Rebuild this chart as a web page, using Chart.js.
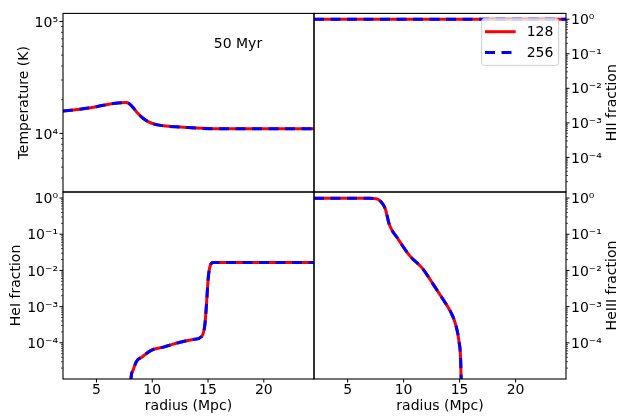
<!DOCTYPE html>
<html>
<head>
<meta charset="utf-8">
<script src="https://cdn.jsdelivr.net/npm/chart.js@4.4.0/dist/chart.umd.min.js"></script>
<style>
  html, body { margin: 0; padding: 0; background: #fff; }
  #wrap { position: relative; width: 632px; height: 419px; }
  #wrap canvas { position: absolute; left: 0; top: 0; }
</style>
</head>
<body>
<div id="wrap">
  <canvas id="cTemp" width="632" height="419"></canvas>
  <canvas id="cHII" width="632" height="419"></canvas>
  <canvas id="cHeI" width="632" height="419"></canvas>
  <canvas id="cHeII" width="632" height="419"></canvas>
</div>
<script>
// perfiles radiales a 50 Myr, resoluciones 128 y 256
const radiusTicks = [5, 10, 15, 20];

const tempRadius = [2.0, 3.5, 5.0, 6.5, 7.7, 8.15, 8.6, 9.2, 9.95, 11.0, 12.5, 15.5, 24.5];
const temp128 = [15830, 16450, 17340, 18500, 18880, 17650, 15520, 13600, 12330, 11700, 11410, 11030, 11030];
const temp256 = [15830, 16450, 17340, 18500, 18880, 17650, 15520, 13600, 12330, 11700, 11410, 11030, 11030];

const hiiRadius = [2.0, 8.0, 15.0, 24.5];
const hii128 = [1.0, 1.0, 1.0, 1.0];
const hii256 = [1.0, 1.0, 1.0, 1.0];

const heiRadius = [8.0, 8.09, 8.3, 8.6, 9.05, 9.95, 11.0, 12.5, 13.67, 14.43, 14.72, 14.88, 15.02, 15.23, 15.47, 24.5];
const hei128 = [3e-6, 1e-5, 1.8e-5, 3.1e-5, 4.0e-5, 6.3e-5, 7.6e-5, 1.04e-4, 1.23e-4, 1.5e-4, 3.2e-4, 1.4e-3, 6.2e-3, 0.0145, 0.0166, 0.0166];
const hei256 = [3e-6, 1e-5, 1.8e-5, 3.1e-5, 4.0e-5, 6.3e-5, 7.6e-5, 1.04e-4, 1.23e-4, 1.5e-4, 3.2e-4, 1.4e-3, 6.2e-3, 0.0145, 0.0166, 0.0166];

const heiiRadius = [2.0, 5.0, 7.0, 7.56, 8.0, 8.36, 8.74, 9.48, 10.52, 11.7, 12.59, 13.47, 14.2, 14.66, 14.95, 15.1, 15.2];
const heii128 = [0.98, 0.98, 0.98, 0.96, 0.78, 0.51, 0.18, 0.076, 0.026, 0.0112, 0.0044, 0.00167, 7.2e-4, 3.1e-4, 1.07e-4, 3e-5, 1e-6];
const heii256 = [0.98, 0.98, 0.98, 0.96, 0.78, 0.51, 0.18, 0.076, 0.026, 0.0112, 0.0044, 0.00167, 7.2e-4, 3.1e-4, 1.07e-4, 3e-5, 1e-6];

Chart.defaults.font.family = "'DejaVu Sans', sans-serif";
Chart.defaults.font.size = 14;
Chart.defaults.color = "#000";

const FONT = { family: "'DejaVu Sans', sans-serif", size: 14 };
const SUP = { "0": "\u2070", "1": "\u00b9", "2": "\u00b2", "3": "\u00b3", "4": "\u2074", "5": "\u2075", "6": "\u2076", "-": "\u207b" };

function pares(xs, ys) {
    return xs.map((x, i) => ({ x: x, y: ys[i] }));
}

function series(xs, y128, y256) {
    return [
        {
            label: "128",
            data: pares(xs, y128),
            borderColor: "#ff0000",
            borderWidth: 3,
            pointRadius: 0,
            cubicInterpolationMode: "monotone",
            order: 1
        },
        {
            label: "256",
            data: pares(xs, y256),
            borderColor: "#0000ff",
            borderWidth: 3,
            borderDash: [10, 6.5],
            pointRadius: 0,
            cubicInterpolationMode: "monotone",
            order: 0
        }
    ];
}

// ticks 1..9 x 10^n dentro del rango (sin el borde inferior)
function logTicks(scale) {
    const list = [];
    for (let e = -7; e <= 7; e++) {
        for (let m = 1; m <= 9; m++) {
            const v = parseFloat(m + "e" + e);
            if (v > scale.min * 1.001 && v <= scale.max) list.push({ value: v, major: m === 1 });
        }
    }
    scale.ticks = list;
}

function decadeLabel(value) {
    const e = Math.round(Math.log10(value));
    if (Math.abs(value / Math.pow(10, e) - 1) > 1e-6) return "";
    return "10" + String(e).split("").map(c => SUP[c]).join("");
}

function logAxis(min, max, position, width, title, titlePad) {
    return {
        type: "logarithmic",
        position: position,
        min: min,
        max: max,
        afterBuildTicks: logTicks,
        afterFit: s => { s.width = width; },
        grid: { display: false, drawTicks: false },
        border: { display: false },
        ticks: { autoSkip: false, padding: 5, labelOffset: 1.5, font: FONT, color: "#000", callback: decadeLabel },
        title: title ? { display: true, text: title, font: FONT, color: "#000", padding: { top: titlePad, bottom: 0 } } : { display: false }
    };
}

function radiusAxis(visible) {
    return {
        type: "linear",
        display: visible,
        min: 2,
        max: 24.5,
        afterBuildTicks: s => { s.ticks = radiusTicks.map(v => ({ value: v })); },
        afterFit: s => { s.height = visible ? 40 : 0; },
        grid: { display: false, drawTicks: false },
        border: { display: false },
        ticks: { autoSkip: false, maxRotation: 0, padding: 3.4, font: FONT, color: "#000" },
        title: { display: true, text: "radius (Mpc)", font: FONT, color: "#000", padding: { top: 0, bottom: 4.6 } }
    };
}

// marco completo del panel
const marco = {
    id: "marco",
    afterDraw(chart) {
        const { ctx, chartArea: a } = chart;
        ctx.save();
        ctx.strokeStyle = "#000";
        ctx.lineWidth = 1.1;
        ctx.strokeRect(a.left, a.top, a.right - a.left, a.bottom - a.top);
        ctx.restore();
    }
};

// marcas de ticks hacia afuera, menores mas cortas
const marcas = {
    id: "marcas",
    afterDraw(chart) {
        const ctx = chart.ctx;
        ctx.save();
        ctx.strokeStyle = "#000";
        Object.values(chart.scales).forEach(scale => {
            if (!scale.options.display) return;
            scale.ticks.forEach(t => {
                const mayor = scale.axis === "x" || t.major;
                const len = mayor ? 3.5 : 2;
                ctx.lineWidth = mayor ? 1 : 0.7;
                const p = scale.getPixelForValue(t.value);
                ctx.beginPath();
                if (scale.axis === "x") {
                    ctx.moveTo(p, scale.top);
                    ctx.lineTo(p, scale.top + len);
                } else if (scale.position === "left") {
                    ctx.moveTo(scale.right, p);
                    ctx.lineTo(scale.right - len, p);
                } else {
                    ctx.moveTo(scale.left, p);
                    ctx.lineTo(scale.left + len, p);
                }
                ctx.stroke();
            });
        });
        ctx.restore();
    }
};

// textos libres: titulo del eje derecho y etiqueta del tiempo
const textos = {
    id: "textos",
    afterDraw(chart, args, opts) {
        const { ctx, chartArea: a } = chart;
        ctx.save();
        ctx.fillStyle = "#000";
        ctx.font = "14px 'DejaVu Sans', sans-serif";
        ctx.textAlign = "center";
        ctx.textBaseline = "middle";
        if (opts.ejeDerecho) {
            ctx.save();
            ctx.translate(a.right + 46, (a.top + a.bottom) / 2);
            ctx.rotate(-Math.PI / 2);
            ctx.fillText(opts.ejeDerecho, 0, 0);
            ctx.restore();
        }
        if (opts.nota) {
            ctx.fillText(opts.nota, a.left + 0.697 * (a.right - a.left), a.top + 0.175 * (a.bottom - a.top));
        }
        ctx.restore();
    }
};

// leyenda dentro del panel HII
const leyenda = {
    id: "leyenda",
    afterDatasetsDraw(chart, args, opts) {
        if (!opts.show) return;
        const { ctx, chartArea: a } = chart;
        const x = a.right - 84.3, y = a.top + 5, w = 77, h = 47;
        ctx.save();
        ctx.beginPath();
        ctx.roundRect(x, y, w, h, 3);
        ctx.fillStyle = "rgba(255,255,255,0.8)";
        ctx.fill();
        ctx.strokeStyle = "#cccccc";
        ctx.lineWidth = 1;
        ctx.stroke();
        chart.data.datasets.forEach((ds, i) => {
            const ly = y + 13.3 + i * 20.7;
            ctx.strokeStyle = ds.borderColor;
            ctx.lineWidth = ds.borderWidth;
            ctx.setLineDash(ds.borderDash || []);
            ctx.beginPath();
            ctx.moveTo(x + 3.3, ly);
            ctx.lineTo(x + 34, ly);
            ctx.stroke();
            ctx.setLineDash([]);
            ctx.fillStyle = "#000";
            ctx.font = "14px 'DejaVu Sans', sans-serif";
            ctx.textBaseline = "middle";
            ctx.textAlign = "left";
            ctx.fillText(ds.label, x + 45, ly + 0.5);
        });
        ctx.restore();
    }
};

function crearPanel(id, datasets, xAxis, yAxis, padding, extras) {
    return new Chart(document.getElementById(id), {
        type: "line",
        data: { datasets: datasets },
        options: {
            responsive: false,
            animation: false,
            events: [],
            layout: { padding: padding },
            scales: { x: xAxis, y: yAxis },
            plugins: {
                legend: { display: false },
                tooltip: { enabled: false },
                textos: extras.textos || {},
                leyenda: { show: !!extras.leyenda }
            }
        },
        plugins: [marco, marcas, textos, leyenda]
    });
}

crearPanel("cTemp", series(tempRadius, temp128, temp256),
    radiusAxis(false), logAxis(3000, 1.18e5, "left", 63, "Temperature (K)", 15.6),
    { left: 0, right: 318, top: 5, bottom: 227 },
    { textos: { nota: "50 Myr" } });

crearPanel("cHII", series(hiiRadius, hii128, hii256),
    radiusAxis(false), logAxis(1e-5, 1.47, "right", 66, null, 0),
    { left: 314, right: 0, top: 5, bottom: 227 },
    { textos: { ejeDerecho: "HII fraction" }, leyenda: true });

crearPanel("cHeI", series(heiRadius, hei128, hei256),
    radiusAxis(true), logAxis(1e-5, 1.47, "left", 63, "HeI fraction", 8.0),
    { left: 0, right: 318, top: 192, bottom: 0 },
    {});

crearPanel("cHeII", series(heiiRadius, heii128, heii256),
    radiusAxis(true), logAxis(1e-5, 1.47, "right", 66, null, 0),
    { left: 314, right: 0, top: 192, bottom: 0 },
    { textos: { ejeDerecho: "HeIII fraction" } });
</script>
</body>
</html>
